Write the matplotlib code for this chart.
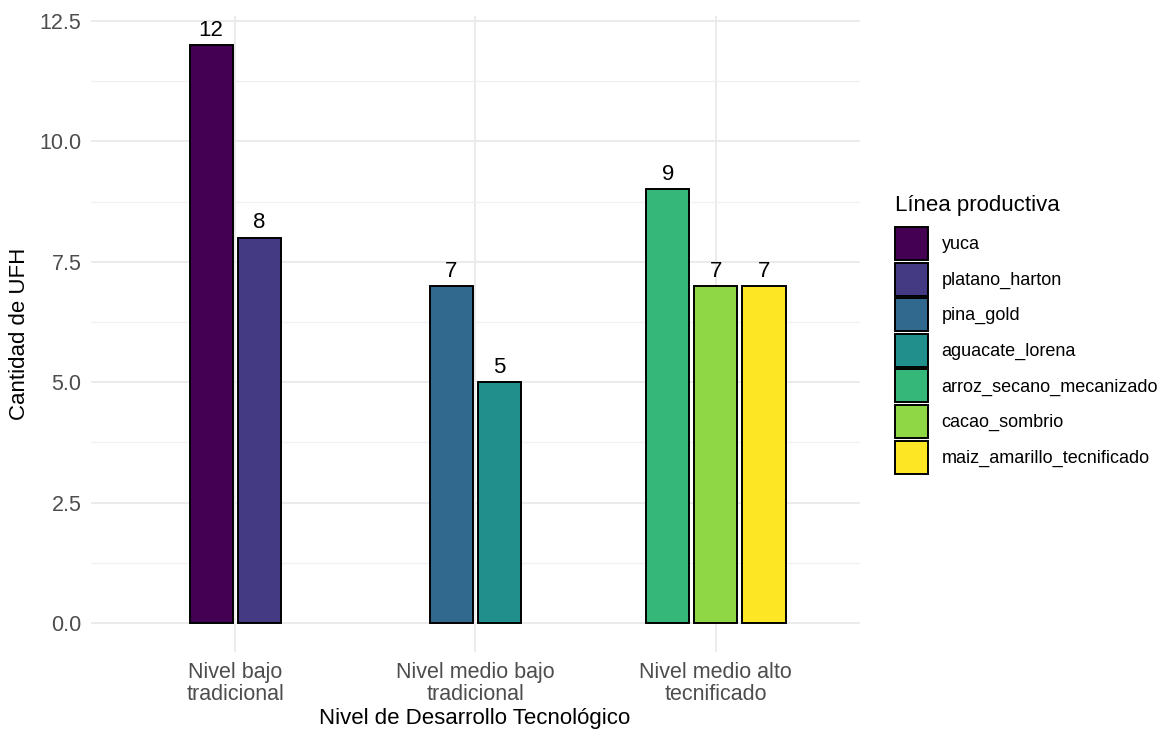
import matplotlib
matplotlib.use("Agg")
import matplotlib.pyplot as plt
from matplotlib.patches import Patch
import numpy as np

plt.rcParams['font.family'] = ['Liberation Sans', 'DejaVu Sans']

# data
niveles = ["Nivel bajo\ntradicional", "Nivel medio bajo\ntradicional", "Nivel medio alto\ntecnificado"]
lineas = ["yuca", "platano_harton", "pina_gold", "aguacate_lorena",
          "arroz_secano_mecanizado", "cacao_sombrio", "maiz_amarillo_tecnificado"]
nivel_de_linea = [0, 0, 1, 1, 2, 2, 2]
cantidad = [12, 8, 7, 5, 9, 7, 7]
colores = ["#440154", "#443A83", "#31688E", "#21908C", "#35B779", "#8FD744", "#FDE725"]

fig = plt.figure(figsize=(11.6, 7.29), dpi=100)
ax = fig.add_axes([91/1160, 1 - 652/729, (860 - 91)/1160, (652 - 16)/729])

# dodge positions, keep single-bar width
paso = 0.2
ancho = 0.18
x_cat = np.arange(1, len(niveles) + 1)
for k in range(len(niveles)):
    idx = [i for i, n in enumerate(nivel_de_linea) if n == k]
    n = len(idx)
    for j, i in enumerate(idx):
        xpos = x_cat[k] + (j - (n - 1) / 2) * paso
        ax.bar(xpos, cantidad[i], width=ancho, color=colores[i],
               edgecolor="black", linewidth=1.4, zorder=3)
        ax.annotate(str(cantidad[i]), (xpos, cantidad[i]), xytext=(0, 3),
                    textcoords="offset points", ha="center", va="bottom",
                    fontsize=16, color="black", zorder=4)

ax.set_xlim(0.4, 3.6)
ax.set_ylim(-0.6, 12.6)
ax.set_xticks(x_cat)
ax.set_xticklabels(niveles, linespacing=1.1)
ax.set_yticks([0, 2.5, 5, 7.5, 10, 12.5])
ax.set_yticklabels(["0.0", "2.5", "5.0", "7.5", "10.0", "12.5"])
ax.set_yticks([1.25, 3.75, 6.25, 8.75, 11.25], minor=True)

ax.grid(True, which="major", color="#EBEBEB", linewidth=1.4, zorder=0)
ax.grid(True, which="minor", axis="y", color="#F0F0F0", linewidth=0.9, zorder=0)
ax.set_axisbelow(True)
for s in ax.spines.values():
    s.set_visible(False)
ax.tick_params(axis="both", which="both", length=0, pad=7, labelsize=15.5, labelcolor="#4D4D4D")

fig.text(20/1160, 1 - 334/729, "Cantidad de UFH", rotation=90, ha="center", va="center", fontsize=16)
fig.text(475/1160, 1 - 708/729, "Nivel de Desarrollo Tecnológico", ha="center", va="top", fontsize=16)

# legend: title placed separately to get ggplot spacing
fig.text(895/1160, 1 - 206/729, "Línea productiva", ha="left", va="center", fontsize=16)
handles = [Patch(facecolor=c, edgecolor="black", linewidth=1.4) for c in colores]
leg = fig.legend(handles, lineas, loc="upper left",
                 bbox_to_anchor=(895/1160, 1 - 227/729), frameon=False,
                 fontsize=13, handlelength=1.83, handleheight=2.44,
                 labelspacing=0.14, handletextpad=0.75, borderpad=0, borderaxespad=0)

fig.savefig("out.png", dpi=100)
